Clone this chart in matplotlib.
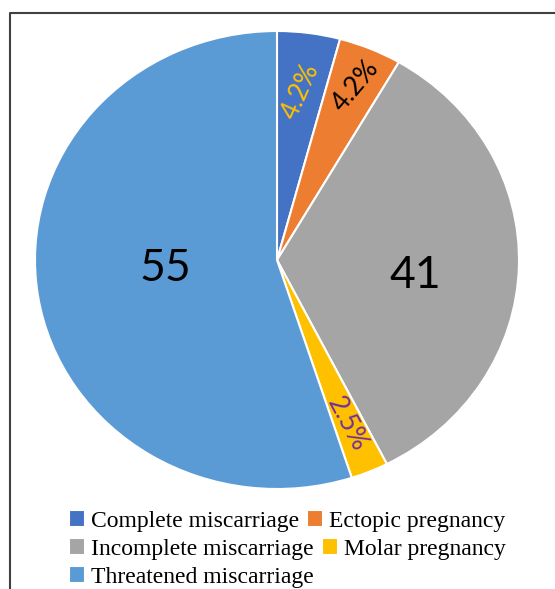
import matplotlib
matplotlib.use("Agg")
import matplotlib.pyplot as plt
from matplotlib.lines import Line2D

categories = ["Complete miscarriage", "Ectopic pregnancy", "Incomplete miscarriage",
              "Molar pregnancy", "Threatened miscarriage"]
shares = [4.2, 4.2, 34.1, 2.5, 55.0]
label_texts = ["4.2%", "4.2%", "41", "2.5%", "55"]
colors = ["#4472C4", "#ED7D31", "#A5A5A5", "#FFC000", "#5B9BD5"]
label_colors = ["#FFC000", "#000000", "#000000", "#7030A0", "#000000"]

W, H = 555, 589
fig = plt.figure(figsize=(W / 100, H / 100), dpi=100)

# pie drawn slightly wider than tall, like the source image
cx, cy, rx, ry = 277, 260, 242, 229
ax = fig.add_axes([(cx - rx) / W, 1 - (cy + ry) / H, 2 * rx / W, 2 * ry / H])
wedges, _ = ax.pie(shares, colors=colors, startangle=90, counterclock=False,
                   wedgeprops=dict(edgecolor="white", linewidth=1.5))
ax.set_aspect("auto")
ax.set_xlim(-1, 1)
ax.set_ylim(-1, 1)
ax.axis("off")

# data labels (positions in data units, rotation in degrees)
label_pos = [(0.099, 0.738, 66, 19), (0.326, 0.760, 50, 19), (0.570, -0.066, 0, 32),
             (0.289, -0.716, -62, 19), (-0.463, -0.035, 0, 32)]
for txt, col, (x, y, rot, fs) in zip(label_texts, label_colors, label_pos):
    ax.text(x, y, txt, color=col, fontsize=fs, rotation=rot, ha="center", va="center",
            family="Lato", rotation_mode="anchor")

# frame of the original chart area (cut off at right and bottom)
fx, fy = 9.5 / W, 1 - 12.5 / H
fig.add_artist(Line2D([fx, fx, 1.0], [0.0, fy, fy], color="#404040", linewidth=1.5,
                      transform=fig.transFigure))

rows = [[0, 1], [2, 3], [4]]
row_y = [521, 549, 577]
for idx, yy in zip(rows, row_y):
    fig.legend([wedges[i] for i in idx], [categories[i] for i in idx],
               loc="center left", bbox_to_anchor=(69 / W, 1 - yy / H), ncol=len(idx),
               frameon=False, prop=dict(family="Liberation Serif", size=17),
               handlelength=0.68, handleheight=0.68, handletextpad=0.25,
               columnspacing=0.35, borderpad=0, borderaxespad=0)

fig.savefig("out.png", dpi=100)
